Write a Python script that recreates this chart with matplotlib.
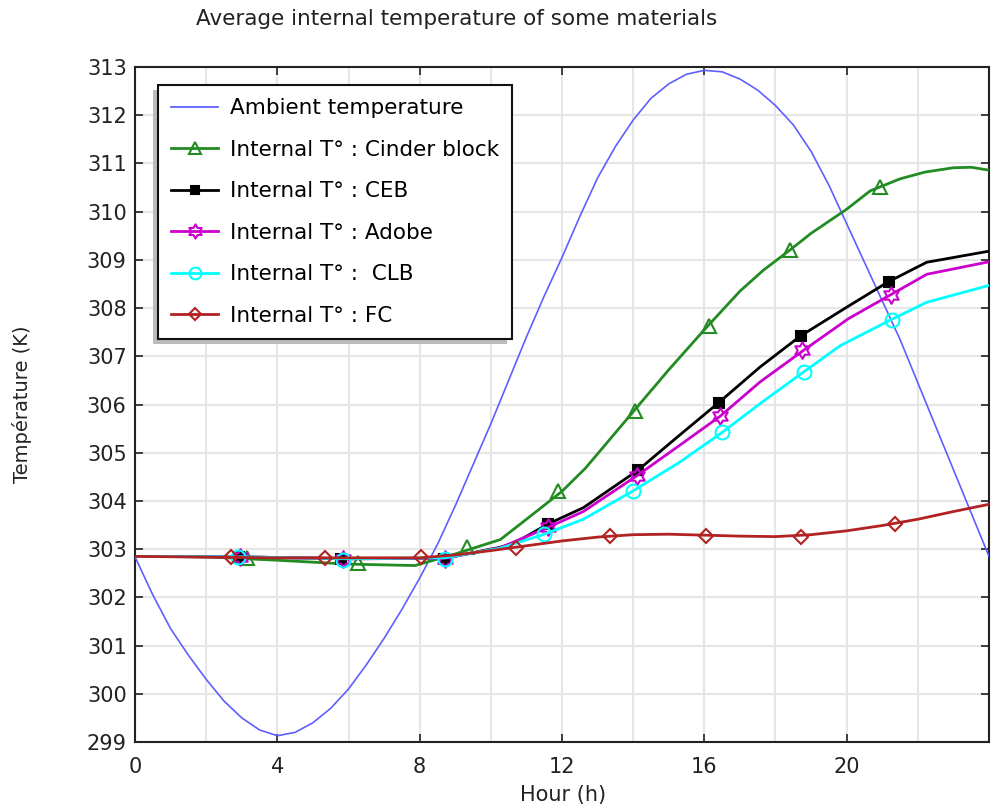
import numpy as np
import matplotlib
matplotlib.use("Agg")
import matplotlib.pyplot as plt
from matplotlib.path import Path
from matplotlib.ticker import MultipleLocator
from matplotlib.patches import Rectangle

# ---------------- data ----------------
amb_t = [0, 0.5, 1, 1.5, 2, 2.5, 3, 3.5, 4, 4.5, 5, 5.5, 6, 6.5, 7, 7.5, 8, 8.5, 9, 9.5,
         10, 10.5, 11, 11.5, 12, 12.5, 13, 13.5, 14, 14.5, 15, 15.5, 16, 16.5, 17, 17.5,
         18, 18.5, 19, 19.5, 20, 20.5, 21, 21.5, 22, 22.5, 23, 23.5, 24]
amb_T = [302.84, 302.05, 301.35, 300.8, 300.3, 299.85, 299.5, 299.25, 299.13, 299.2,
         299.4, 299.7, 300.1, 300.6, 301.15, 301.75, 302.4, 303.1, 303.9, 304.75,
         305.6, 306.5, 307.4, 308.25, 309.05, 309.9, 310.7, 311.35, 311.9, 312.35,
         312.65, 312.85, 312.93, 312.9, 312.75, 312.52, 312.2, 311.8, 311.25, 310.55,
         309.75, 308.95, 308.15, 307.35, 306.45, 305.55, 304.65, 303.75, 302.85]

cb_t = [0, 2, 4, 6, 7.87, 9, 10.27, 11, 12, 12.66, 14, 15, 16, 17, 17.65, 18.4, 19, 20,
        20.66, 21.5, 22.2, 23, 23.5, 24]
cb_T = [302.85, 302.84, 302.77, 302.69, 302.66, 302.9, 303.2, 303.62, 304.2, 304.68,
        305.85, 306.72, 307.55, 308.35, 308.78, 309.2, 309.55, 310.05, 310.43, 310.68,
        310.82, 310.91, 310.92, 310.86]
cb_mt = [3.16, 6.28, 9.32, 11.9, 14.06, 16.14, 18.4, 20.94]
cb_mT = [302.82, 302.71, 303.05, 304.2, 305.87, 307.62, 309.2, 310.52]

ceb_t = [0, 3, 6, 8.7, 10.27, 10.7, 11.6, 12.6, 14.14, 15.2, 16.39, 17.57, 18.7, 20.05,
         21.16, 22.25, 24]
ceb_T = [302.85, 302.84, 302.8, 302.81, 303.04, 303.14, 303.52, 303.86, 304.64, 305.3,
         306.03, 306.78, 307.42, 308.04, 308.54, 308.95, 309.18]
ceb_mt = [2.92, 5.8, 8.68, 11.6, 14.14, 16.4, 18.72, 21.18]
ceb_mT = [302.84, 302.8, 302.8, 303.52, 304.64, 306.03, 307.42, 308.54]

ado_t = [0, 3, 6, 8.7, 10.27, 11.6, 12.6, 14.1, 15.3, 16.45, 17.57, 18.8, 20.05, 21.2,
         22.25, 24]
ado_T = [302.85, 302.84, 302.8, 302.81, 303.03, 303.45, 303.78, 304.52, 305.15, 305.76,
         306.47, 307.13, 307.78, 308.26, 308.7, 308.96]
ado_mt = [2.95, 5.85, 8.72, 11.62, 14.12, 16.45, 18.75, 21.25]
ado_mT = [302.84, 302.8, 302.8, 303.45, 304.52, 305.76, 307.13, 308.27]

clb_t = [0, 3, 6, 8.7, 10.27, 11.5, 12.6, 14.0, 15.3, 16.5, 17.57, 18.8, 19.82, 21.25,
         22.25, 24]
clb_T = [302.85, 302.84, 302.8, 302.82, 303.02, 303.31, 303.62, 304.21, 304.8, 305.42,
         306.02, 306.68, 307.22, 307.76, 308.12, 308.47]
clb_mt = [2.9, 5.85, 8.72, 11.5, 14.0, 16.5, 18.8, 21.27]
clb_mT = [302.83, 302.78, 302.8, 303.31, 304.21, 305.42, 306.67, 307.75]

fc_t = [0, 4, 8, 9, 10, 11, 12, 13, 14, 15, 16, 17, 18, 19, 20, 21, 22, 23, 24]
fc_T = [302.85, 302.82, 302.82, 302.88, 302.97, 303.07, 303.17, 303.25, 303.3, 303.31,
        303.29, 303.27, 303.26, 303.3, 303.38, 303.49, 303.62, 303.78, 303.93]
fc_mt = [2.7, 5.35, 8.03, 10.7, 13.35, 16.05, 18.72, 21.36]
fc_mT = [302.83, 302.81, 302.84, 303.03, 303.28, 303.28, 303.25, 303.52]

labels = ["Ambient temperature",
          "Internal T° : Cinder block",
          "Internal T° : CEB",
          "Internal T° : Adobe",
          "Internal T° :  CLB",
          "Internal T° : FC"]
x_ticks = [0, 4, 8, 12, 16, 20]
y_ticks = list(range(299, 314))

# ---------------- style ----------------
plt.rcParams['font.family'] = ['DejaVu Sans']

# six-pointed star marker
ang = np.deg2rad(90 + 30 * np.arange(12))
rad = np.where(np.arange(12) % 2 == 0, 1.0, 1 / np.sqrt(3))
verts = np.column_stack([rad * np.cos(ang), rad * np.sin(ang)])
verts = np.vstack([verts, verts[:1]])
codes = [Path.MOVETO] + [Path.LINETO] * 11 + [Path.CLOSEPOLY]
hexagram = Path(verts, codes)

fig = plt.figure(figsize=(10.01, 8.09), dpi=100)
ax = fig.add_axes([0.1349, 0.0828, 0.8531, 0.8344])

lw = 2.0
amb_color = '#5f5fff'
ax.plot(amb_t, amb_T, color=amb_color, lw=1.2, zorder=3)

series = [
    (cb_t, cb_T, cb_mt, cb_mT, '#228b22', '^', 10, 'none'),
    (ceb_t, ceb_T, ceb_mt, ceb_mT, '#000000', 's', 7, '#000000'),
    (ado_t, ado_T, ado_mt, ado_mT, '#cc00cc', hexagram, 12, 'none'),
    (clb_t, clb_T, clb_mt, clb_mT, '#00ffff', 'o', 10, 'none'),
    (fc_t, fc_T, fc_mt, fc_mT, '#b22222', 'D', 7, 'none'),
]
handles = [plt.Line2D([], [], color=amb_color, lw=1.3)]
for i, (t, T, mt, mT, c, m, ms, mfc) in enumerate(series):
    z = 4 + i
    ax.plot(t, T, color=c, lw=lw, zorder=z)
    ax.plot(mt, mT, ls='none', marker=m, ms=ms, mfc=mfc, mec=c, mew=1.5, zorder=z)
    handles.append(plt.Line2D([], [], color=c, lw=lw, marker=m, ms=ms * 0.85,
                              mfc=mfc, mec=c, mew=1.5))

ax.set_xlim(0, 24)
ax.set_ylim(299, 313)
ax.set_xticks(x_ticks)
ax.xaxis.set_minor_locator(MultipleLocator(2))
ax.set_yticks(y_ticks)
ax.grid(True, which='both', color='#e6e6e6', lw=1.5, zorder=0)
ax.set_axisbelow(True)
ax.tick_params(which='major', direction='in', top=True, right=True, length=6,
               width=1.2, labelsize=15, colors='#222222')
ax.tick_params(axis='x', which='major', pad=11)
ax.tick_params(axis='y', which='major', pad=6)
ax.tick_params(which='minor', length=0)
for s in ax.spines.values():
    s.set_linewidth(1.5)
    s.set_color('#222222')

ax.set_xlabel("Hour (h)", fontsize=15, color='#222222', va='center')
ax.xaxis.set_label_coords(0.501, -0.0785)
ax.set_ylabel("Température (K)", fontsize=14, color='#222222', va='center')
ax.yaxis.set_label_coords(-0.132, 0.5)
fig.text(0.456, 0.977, "Average internal temperature of some materials",
         ha='center', va='center', fontsize=15.5, color='#222222')

leg = ax.legend(handles, labels, loc='upper left', bbox_to_anchor=(0.027, 0.973),
                fontsize=15.5, frameon=True, fancybox=False, edgecolor='#111111',
                framealpha=1, numpoints=1, handlelength=2.2, handletextpad=0.55,
                labelspacing=1.0, borderpad=0.6, borderaxespad=0)
leg.get_frame().set_linewidth(1.5)
leg.set_zorder(20)

fig.canvas.draw()
bb = leg.get_window_extent()
shadow = Rectangle((bb.x0 - 5, bb.y0 - 5), bb.width, bb.height, transform=None,
                   facecolor='#bbbbbb', edgecolor='none', zorder=19)
ax.add_artist(shadow)

fig.savefig("out.png", dpi=100)
